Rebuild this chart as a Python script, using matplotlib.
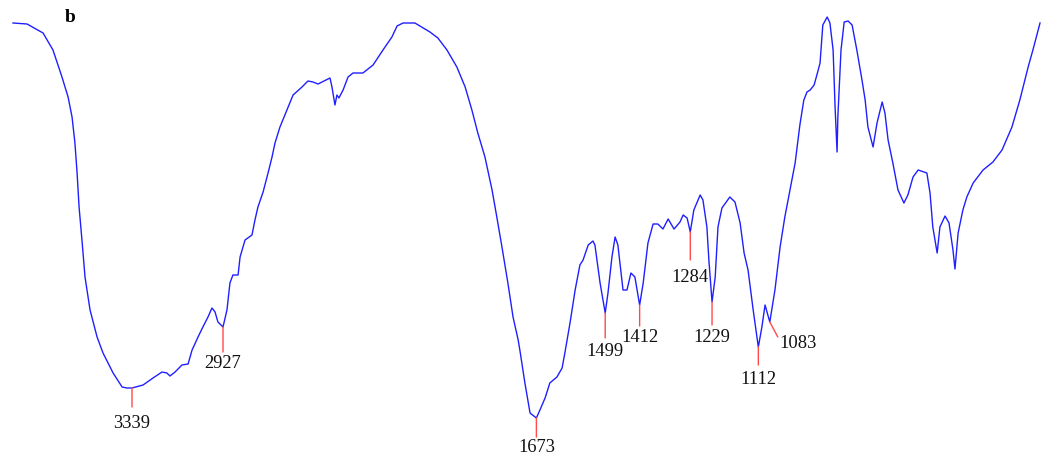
import numpy as np
import matplotlib
matplotlib.use("Agg")
import matplotlib.pyplot as plt

# FTIR spectrum "b": wavenumber (cm-1) vs transmittance (a.u.)
wn_high = [4000, 3922, 3833, 3778, 3728, 3694, 3672, 3656, 3644, 3633, 3617, 3600, 3572,
           3533, 3500, 3444, 3394, 3367, 3339,
           3289, 3244, 3203, 3181, 3167, 3144, 3122, 3113, 3085, 3067, 3040, 3018, 2995,
           2977, 2963, 2950, 2927,
           2907, 2892, 2877, 2851, 2841, 2816, 2781, 2766, 2751, 2725, 2700, 2680, 2665,
           2640, 2605, 2574, 2529, 2499, 2474, 2448, 2428, 2388, 2378, 2363, 2353, 2343,
           2322, 2297, 2272, 2222, 2171, 2121, 2076, 2050, 2020]
t_high = [95.4, 95.2, 93.4, 90, 84.6, 80.6, 76.6, 71.4, 65.4, 58.6, 52, 44.6, 38,
          32.6, 29.4, 25.4, 22.6, 22.4, 22.4,
          23, 24.4, 25.6, 25.4, 24.8, 25.6, 26.6, 27, 27.2, 30, 32.6, 34.6, 36.6,
          38.4, 37.6, 35.6, 34.6,
          38, 43.4, 45, 45, 48.6, 52, 53, 56, 58.6, 61.6, 65.4, 68.6, 71.4,
          74.6, 78, 81, 82.6, 83.8, 83.6, 83.2, 83.6, 84.4, 82.6, 79, 81, 80.4,
          82, 84.6, 85.4, 85.4, 87, 90, 92.6, 94.8, 95.4]

wn_low = [1980, 1942, 1922, 1899, 1874, 1853, 1836, 1821, 1803, 1785, 1773, 1760, 1745,
          1732, 1719, 1714, 1702, 1689, 1673, 1664, 1651, 1639, 1621, 1608, 1601, 1588,
          1575, 1563, 1555, 1542, 1530, 1525, 1512, 1499, 1492, 1482, 1474, 1467, 1454,
          1444, 1434, 1424, 1412, 1403, 1391, 1378, 1366, 1353, 1340, 1325, 1310, 1302,
          1292, 1284, 1275, 1259, 1252, 1242, 1237, 1229, 1221, 1214, 1204, 1184, 1171,
          1158, 1148, 1138, 1125, 1112, 1103, 1095, 1088, 1083, 1070, 1057, 1045, 1032,
          1019, 1007, 997, 989, 981, 971, 964, 956, 949, 938, 931, 923, 918, 913, 911,
          903, 895, 885, 875, 863, 850, 842, 835, 822, 812, 799, 792, 784, 772, 759,
          744, 734, 721, 708, 686, 678, 671, 660, 653, 640, 630, 620, 615, 607, 595,
          585, 569, 544, 519, 496, 471, 451, 430, 418, 400]
t_low = [95.4, 93.6, 92.4, 90, 86.6, 82.6, 78, 73.4, 68.6, 62, 56.6, 50.6, 43.4,
         36.6, 32, 29.6, 23.4, 17.4, 16.4, 18, 20.4, 23.4, 24.6, 26.4, 29.4, 35.4,
         42, 47, 48, 51, 51.8, 51, 43.4, 37.4, 41.4, 48.6, 52.6, 51, 42,
         42, 45.4, 44.6, 39, 43.4, 51.4, 55.2, 55.2, 54.2, 56.2, 54.2, 55.6, 57,
         56.4, 53.6, 58, 61, 60, 54.6, 48, 39.6, 44.6, 54.6, 58.4, 60.6, 59.6,
         55.4, 49.4, 46, 38, 30.6, 34.6, 39, 37, 35.6, 42, 50.6, 56.6, 62,
         67.4, 75, 80, 81.6, 82, 83, 85, 87.4, 95, 96.6, 95.4, 90, 78.6, 69.6, 76.6,
         90, 95.6, 95.8, 95, 90, 84, 80, 74.6, 70.6, 75.4, 79.6, 77.4, 72, 67.4, 62,
         59.4, 61, 64.6, 66, 65.4, 61.4, 54.6, 49.4, 54.6, 56.8, 55.4, 50, 46.2, 53.4, 58,
         60.6, 63.4, 66, 67.6, 70, 74.6, 80, 86.6, 90, 95.4]

peaks = [3339, 2927, 1673, 1499, 1412, 1284, 1229, 1112, 1083]

wn = np.array(wn_high + wn_low)
trans = np.array(t_high + t_low)
assert len(wn) == len(trans)

# instrument x-axis is not linear (compressed above 2000 cm-1)
# axis_dist: distance along the axis counted from the low-wavenumber end
axis_wn = np.array([395, 2000, 2927, 3339, 4000, 4072])
axis_dist = np.array([0, 635, 819, 910, 1029, 1042])

def fwd(w):
    return np.interp(np.asarray(w, dtype=float), axis_wn, axis_dist)

def inv(d):
    return np.interp(np.asarray(d, dtype=float), axis_dist, axis_wn)

plt.rcParams["font.family"] = ["Liberation Serif", "DejaVu Serif"]

fig = plt.figure(figsize=(10.42, 4.63), dpi=100)
ax = fig.add_axes([0, 0, 1, 1])
ax.set_xscale("function", functions=(fwd, inv))
ax.plot(wn, trans, color="#1f1fff", lw=1.0)
ax.set_xlim(4072, 395)
ax.set_ylim(7.4, 100)
ax.axis("off")

red = "#ff4a4a"
# tick length and label top offset (pixels below the band)
tick_len = {3339: 19, 2927: 25, 1673: 19, 1499: 25, 1412: 21, 1284: 28, 1229: 23, 1112: 18}
label_off = {3339: 26.5, 2927: 27.5, 1673: 21.5, 1499: 29.5, 1412: 23.5, 1284: 37.5,
             1229: 26.5, 1112: 24.5}

for p in peaks:
    tp = np.interp(p, wn[::-1], trans[::-1])
    if p == 1083:
        ax.annotate("", xy=(p, tp), xytext=(8, -15), textcoords="offset pixels",
                    arrowprops=dict(arrowstyle="-", color=red, lw=1, shrinkA=0, shrinkB=0))
        ax.annotate(str(p), xy=(p, tp), xytext=(10, -13.5), textcoords="offset pixels",
                    ha="left", va="top", fontsize=13.3, color="#111111")
        continue
    ax.annotate("", xy=(p, tp), xytext=(0, -tick_len[p]), textcoords="offset pixels",
                arrowprops=dict(arrowstyle="-", color=red, lw=1, shrinkA=0, shrinkB=0))
    ax.annotate(str(p), xy=(p, tp), xytext=(0, -label_off[p]), textcoords="offset pixels",
                ha="center", va="top", fontsize=13.3, color="#111111")

fig.text(70 / 1042, 1 - 18 / 463, "b", ha="center", va="center",
         fontsize=14, fontweight="bold")

fig.savefig("out.png", dpi=100)
